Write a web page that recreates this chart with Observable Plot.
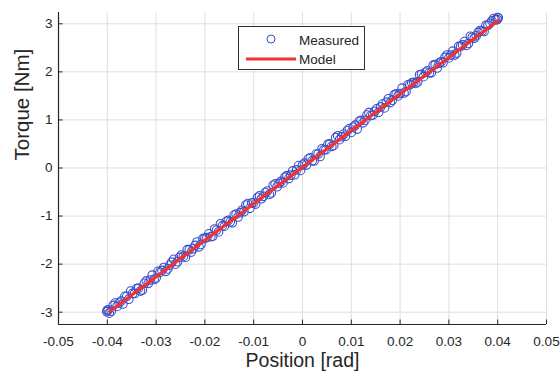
<!DOCTYPE html>
<html>
<head>
<meta charset="utf-8">
<script src="https://cdn.jsdelivr.net/npm/d3@7"></script>
<script src="https://cdn.jsdelivr.net/npm/@observablehq/plot@0.6"></script>
<style>
  html, body { margin: 0; padding: 0; background: #fff; }
  #wrap { position: relative; width: 560px; height: 378px; font-family: "Liberation Sans", Arial, Helvetica, sans-serif; }
  #legend { position: absolute; left: 238px; top: 26px; width: 127px; height: 44px; border: 1px solid #303030; background: #fff; box-sizing: border-box; }
  #legend svg { position: absolute; left: 0; top: 0; }
</style>
</head>
<body>
<div id="wrap"></div>
<script>
// ---- data ----
const measuredX = [
  -0.0400, -0.0392, -0.0384, -0.0376, -0.0368, -0.0360, -0.0352, -0.0344, -0.0336, -0.0328,
  -0.0320, -0.0312, -0.0304, -0.0296, -0.0288, -0.0280, -0.0272, -0.0264, -0.0256, -0.0248,
  -0.0240, -0.0232, -0.0224, -0.0216, -0.0208, -0.0200, -0.0192, -0.0184, -0.0176, -0.0168,
  -0.0160, -0.0152, -0.0144, -0.0136, -0.0128, -0.0120, -0.0112, -0.0104, -0.0096, -0.0088,
  -0.0080, -0.0072, -0.0064, -0.0056, -0.0048, -0.0040, -0.0032, -0.0024, -0.0016, -0.0008,
   0.0000,  0.0008,  0.0016,  0.0024,  0.0032,  0.0040,  0.0048,  0.0056,  0.0064,  0.0072,
   0.0080,  0.0088,  0.0096,  0.0104,  0.0112,  0.0120,  0.0128,  0.0136,  0.0144,  0.0152,
   0.0160,  0.0168,  0.0176,  0.0184,  0.0192,  0.0200,  0.0208,  0.0216,  0.0224,  0.0232,
   0.0240,  0.0248,  0.0256,  0.0264,  0.0272,  0.0280,  0.0288,  0.0296,  0.0304,  0.0312,
   0.0320,  0.0328,  0.0336,  0.0344,  0.0352,  0.0360,  0.0368,  0.0376,  0.0384,  0.0392,
   0.0400,  0.0401,  0.0399, -0.0398, -0.0401,
  -0.0396, -0.0388, -0.0380, -0.0372, -0.0364, -0.0356, -0.0348, -0.0340, -0.0332, -0.0324,
  -0.0316, -0.0308, -0.0300, -0.0292, -0.0284, -0.0276, -0.0268, -0.0260, -0.0252, -0.0244,
  -0.0236, -0.0228, -0.0220, -0.0212, -0.0204, -0.0196, -0.0188, -0.0180, -0.0172, -0.0164,
  -0.0156, -0.0148, -0.0140, -0.0132, -0.0124, -0.0116, -0.0108, -0.0100, -0.0092, -0.0084,
  -0.0076, -0.0068, -0.0060, -0.0052, -0.0044, -0.0036, -0.0028, -0.0020, -0.0012, -0.0004,
   0.0004,  0.0012,  0.0020,  0.0028,  0.0036,  0.0044,  0.0052,  0.0060,  0.0068,  0.0076,
   0.0084,  0.0092,  0.0100,  0.0108,  0.0116,  0.0124,  0.0132,  0.0140,  0.0148,  0.0156,
   0.0164,  0.0172,  0.0180,  0.0188,  0.0196,  0.0204,  0.0212,  0.0220,  0.0228,  0.0236,
   0.0244,  0.0252,  0.0260,  0.0268,  0.0276,  0.0284,  0.0292,  0.0300,  0.0308,  0.0316,
   0.0324,  0.0332,  0.0340,  0.0348,  0.0356,  0.0364,  0.0372,  0.0380,  0.0388,  0.0396
];
const measuredY = [
  -2.96, -2.98, -2.81, -2.81, -2.83, -2.67, -2.56, -2.61, -2.50, -2.54,
  -2.35, -2.33, -2.32, -2.15, -2.13, -2.15, -2.02, -1.90, -1.95, -1.81,
  -1.86, -1.70, -1.68, -1.54, -1.59, -1.46, -1.37, -1.42, -1.29, -1.16,
  -1.21, -1.09, -1.14, -0.96, -0.93, -0.91, -0.74, -0.73, -0.75, -0.58,
  -0.59, -0.48, -0.52, -0.33, -0.32, -0.31, -0.16, -0.15, -0.14,  0.05,
   0.06,  0.06,  0.21,  0.15,  0.29,  0.40,  0.38,  0.50,  0.47,  0.67,
   0.65,  0.66,  0.82,  0.85,  0.81,  0.99,  0.99,  1.15,  1.10,  1.23,
   1.27,  1.25,  1.44,  1.41,  1.54,  1.55,  1.56,  1.73,  1.77,  1.76,
   1.94,  1.90,  2.02,  1.98,  2.15,  2.18,  2.19,  2.35,  2.35,  2.35,
   2.53,  2.56,  2.55,  2.74,  2.70,  2.82,  2.85,  2.97,  3.01,  3.11,
   3.13,  3.12,  3.09, -2.95, -2.99,
  -3.02, -2.86, -2.88, -2.77, -2.67, -2.73, -2.61, -2.51, -2.56, -2.40,
  -2.40, -2.23, -2.29, -2.17, -2.07, -2.10, -1.96, -2.00, -1.86, -1.84,
  -1.70, -1.75, -1.61, -1.64, -1.47, -1.45, -1.43, -1.27, -1.33, -1.20,
  -1.11, -1.12, -0.98, -1.02, -0.88, -0.77, -0.84, -0.72, -0.61, -0.64,
  -0.51, -0.55, -0.36, -0.39, -0.28, -0.19, -0.22, -0.06, -0.04, -0.05,
   0.10,  0.19,  0.15,  0.29,  0.24,  0.38,  0.49,  0.45,  0.63,  0.59,
   0.70,  0.78,  0.74,  0.89,  0.97,  0.94,  1.10,  1.09,  1.18,  1.16,
   1.33,  1.37,  1.36,  1.52,  1.50,  1.66,  1.59,  1.73,  1.78,  1.79,
   1.95,  1.99,  1.98,  2.14,  2.08,  2.21,  2.30,  2.29,  2.43,  2.39,
   2.53,  2.63,  2.59,  2.72,  2.75,  2.86,  2.84,  2.97,  3.06,  3.08
];
const modelX = [-0.0395, 0.0401];
const modelY = [-2.985, 3.07];
const xTicks = [-0.05, -0.04, -0.03, -0.02, -0.01, 0, 0.01, 0.02, 0.03, 0.04, 0.05];
const yTicks = [-3, -2, -1, 0, 1, 2, 3];
const xDomain = [-0.05, 0.05];
const yDomain = [-3.256, 3.235];
const xTitle = "Position [rad]";
const yTitle = "Torque [Nm]";
const seriesNames = ["Measured", "Model"];

const measured = measuredX.map((x, i) => ({x, y: measuredY[i]}));
const model = modelX.map((x, i) => ({x, y: modelY[i]}));

const W = 560, H = 378, mt = 12, mr = 14, mb = 54, ml = 58;
const innerH = H - mt - mb, innerW = W - ml - mr;
const ink = "#262626", gridC = "#dfdfdf";
const blue = "#3d4fc6", red = "#f03232";
const font = '"Liberation Sans", Arial, Helvetica, sans-serif';

const chart = Plot.plot({
  width: W, height: H,
  marginTop: mt, marginRight: mr, marginBottom: mb, marginLeft: ml,
  style: {fontFamily: font, background: "#fff", color: ink, overflow: "visible"},
  x: {domain: xDomain, axis: null},
  y: {domain: yDomain, axis: null},
  marks: [
    Plot.gridX(xTicks, {stroke: gridC, strokeOpacity: 1, strokeWidth: 1}),
    Plot.gridY(yTicks, {stroke: gridC, strokeOpacity: 1, strokeWidth: 1}),
    Plot.dot(measured, {x: "x", y: "y", r: 4.3, stroke: blue, strokeWidth: 1.1, fill: "none"}),
    Plot.line(model, {x: "x", y: "y", stroke: red, strokeWidth: 3.2}),
    // axis lines
    Plot.ruleX([xDomain[0]], {stroke: ink, strokeWidth: 1.2}),
    Plot.ruleY([yDomain[0]], {stroke: ink, strokeWidth: 1.2}),
    // inward ticks
    Plot.ruleX(xTicks, {insetTop: innerH - 4.5, stroke: ink, strokeWidth: 1}),
    Plot.ruleY(yTicks, {insetRight: innerW - 4.5, stroke: ink, strokeWidth: 1}),
    // tick labels
    Plot.axisX(xTicks, {tickSize: 0, tickPadding: 12, tickFormat: d => String(d), fontSize: 13.5, fill: ink, label: null}),
    Plot.axisY(yTicks, {tickSize: 0, tickPadding: 6, tickFormat: d => String(d), fontSize: 13.5, fill: ink, label: null}),
    // titles
    Plot.text([xTitle], {frameAnchor: "bottom", dy: 42, fontSize: 19.5, fill: ink, text: d => d}),
    Plot.text([yTitle], {frameAnchor: "left", dx: -36, dy: -8, rotate: -90, fontSize: 20.5, fill: ink, text: d => d})
  ]
});

const wrap = document.getElementById("wrap");
wrap.appendChild(chart);

// legend
const leg = document.createElement("div");
leg.id = "legend";
leg.innerHTML = `<svg width="127" height="44" xmlns="http://www.w3.org/2000/svg">
  <circle cx="32" cy="12" r="4" fill="none" stroke="${blue}" stroke-width="1"/>
  <line x1="7" x2="57" y1="32" y2="32" stroke="${red}" stroke-width="3.2"/>
  <text x="60" y="18" font-size="13.5" fill="${ink}" font-family='${font}'>${seriesNames[0]}</text>
  <text x="60" y="37" font-size="13.5" fill="${ink}" font-family='${font}'>${seriesNames[1]}</text>
</svg>`;
wrap.appendChild(leg);
</script>
</body>
</html>
